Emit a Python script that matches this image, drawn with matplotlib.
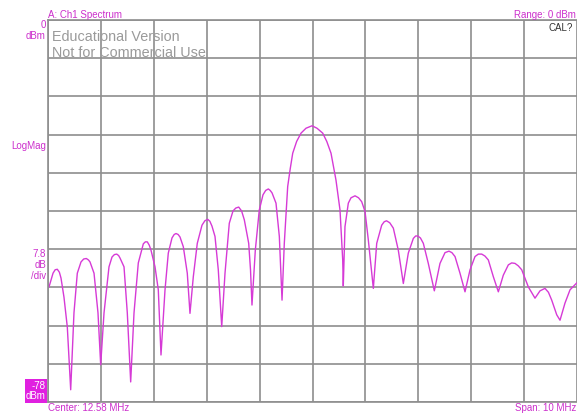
import matplotlib
matplotlib.use('Agg')
import numpy as np
import matplotlib.pyplot as plt

# Trace (frequency in MHz, level in dBm)
freq_mhz = [7.599, 7.675, 7.715, 7.756, 7.795, 7.826, 7.882, 7.945, 8.009, 8.071,
            8.134, 8.204, 8.255, 8.304, 8.345, 8.374, 8.450, 8.525, 8.576, 8.639,
            8.733, 8.790, 8.835, 8.879, 8.915, 8.941, 9.017, 9.079, 9.143, 9.206,
            9.287, 9.382, 9.420, 9.457, 9.495, 9.527, 9.603, 9.665, 9.716, 9.792,
            9.854, 9.924, 9.965, 10.000, 10.040, 10.075, 10.138, 10.213, 10.264, 10.327,
            10.402, 10.491, 10.545, 10.599, 10.640, 10.680, 10.737, 10.799, 10.864, 10.926,
            11.007, 11.077, 11.130, 11.185, 11.240, 11.291, 11.374, 11.408, 11.436, 11.499,
            11.574, 11.644, 11.695, 11.745, 11.780, 11.815, 11.890, 11.953, 12.004, 12.047,
            12.111, 12.160, 12.206, 12.280, 12.363, 12.457, 12.571, 12.665, 12.773, 12.850,
            12.930, 13.024, 13.100, 13.151, 13.162, 13.194, 13.257, 13.308, 13.384, 13.450,
            13.510, 13.573, 13.635, 13.730, 13.794, 13.888, 13.935, 13.979, 14.040, 14.108,
            14.202, 14.297, 14.391, 14.486, 14.530, 14.569, 14.620, 14.675, 14.769, 14.883,
            14.990, 15.085, 15.160, 15.215, 15.274, 15.368, 15.463, 15.558, 15.652, 15.715,
            15.779, 15.840, 15.904, 15.998, 16.093, 16.187, 16.282, 16.345, 16.408, 16.470,
            16.535, 16.660, 16.786, 16.881, 16.975, 17.040, 17.102, 17.197, 17.259, 17.353,
            17.448, 17.574]
level_dbm = [-54.5, -51.7, -51.0, -50.9, -51.5, -52.7, -56.6, -62.7, -75.5, -59.8,
             -51.7, -49.4, -48.8, -48.7, -49.0, -49.4, -51.7, -59.8, -70.4, -59.8,
             -50.4, -48.4, -47.9, -47.8, -48.1, -48.6, -50.4, -59.8, -73.9, -59.8,
             -49.6, -45.7, -45.3, -45.3, -46.0, -47.0, -50.4, -55.1, -68.4, -55.1,
             -47.6, -44.5, -43.8, -43.6, -43.8, -44.3, -46.3, -51.7, -59.9, -52.4,
             -45.6, -41.9, -41.0, -40.7, -41.1, -42.1, -44.2, -51.0, -62.6, -51.7,
             -41.5, -39.0, -38.4, -38.2, -39.0, -40.8, -45.6, -51.0, -58.2, -47.0,
             -38.8, -35.7, -34.8, -34.5, -34.8, -35.3, -37.4, -44.2, -57.2, -45.6,
             -34.0, -30.3, -27.2, -24.8, -23.1, -22.1, -21.6, -22.1, -23.1, -24.8,
             -27.2, -32.7, -38.8, -49.0, -54.3, -42.2, -37.4, -36.3, -35.9, -36.3,
             -37.1, -39.1, -44.9, -54.8, -45.6, -41.9, -41.2, -41.0, -41.4, -42.5,
             -47.0, -53.8, -47.6, -44.6, -44.1, -44.1, -44.5, -45.6, -49.7, -55.3,
             -49.7, -47.5, -47.2, -47.5, -48.3, -51.7, -55.5, -51.0, -48.3, -47.8,
             -47.8, -48.2, -49.0, -52.4, -55.5, -52.1, -50.0, -49.6, -49.7, -50.2,
             -51.0, -54.5, -56.8, -55.3, -54.8, -55.6, -57.2, -60.2, -61.3, -57.8,
             -55.1, -53.7]

center_mhz = 12.58
span_mhz = 10.0
ref_dbm = 0.0
db_per_div = 7.8
n_div = 10

MAG = '#cc2fcc'
TRACE = '#d63ad6'
GRID = '#8e8e8e'

plt.rcParams['font.family'] = ['Liberation Sans', 'DejaVu Sans']

W, H = 577, 416
fig = plt.figure(figsize=(W / 100, H / 100), dpi=100)
fig.patch.set_facecolor('white')
ax = fig.add_axes([48 / W, (H - 402) / H, 529 / W, 382 / H])

f0 = center_mhz - span_mhz / 2
f1 = center_mhz + span_mhz / 2
bottom = ref_dbm - db_per_div * n_div
ax.set_xlim(f0, f1)
ax.set_ylim(bottom, ref_dbm)
ax.set_xticks(np.linspace(f0, f1, n_div + 1))
ax.set_yticks(np.linspace(bottom, ref_dbm, n_div + 1))
ax.tick_params(length=0, labelbottom=False, labelleft=False)
ax.grid(True, color=GRID, linewidth=1.2)
for s in ax.spines.values():
    s.set_color(GRID)
    s.set_linewidth(1.2)
ax.spines['right'].set_visible(False)

ax.plot(freq_mhz, level_dbm, color=TRACE, linewidth=1.0, clip_on=True)

def px(x, y):
    return x / W, 1 - y / H

# watermark
fig.text(*px(52, 37), 'Educational Version', color='#9a9a9a', fontsize=10.4,
         ha='left', va='center')
fig.text(*px(52, 53), 'Not for Commercial Use', color='#9a9a9a', fontsize=10.4,
         ha='left', va='center')

# annotations around the screen
fig.text(*px(48, 15), 'A: Ch1 Spectrum', color=MAG, fontsize=7, ha='left', va='center')
fig.text(*px(576, 15), 'Range: 0 dBm', color=MAG, fontsize=7, ha='right', va='center')
fig.text(*px(573, 28), 'CAL?', color='#333333', fontsize=7, ha='right', va='center')
fig.text(*px(46, 25), '0', color=MAG, fontsize=7, ha='right', va='center')
fig.text(*px(46, 36), 'dBm', color=MAG, fontsize=7, ha='right', va='center')
fig.text(*px(46, 146), 'LogMag', color=MAG, fontsize=7, ha='right', va='center')
fig.text(*px(46, 254), '7.8', color=MAG, fontsize=7, ha='right', va='center')
fig.text(*px(46, 265), 'dB', color=MAG, fontsize=7, ha='right', va='center')
fig.text(*px(46, 276), '/div', color=MAG, fontsize=7, ha='right', va='center')
fig.text(*px(46, 391), '-78\ndBm', color='white', fontsize=7, ha='right', va='center',
         multialignment='right', linespacing=1.05,
         bbox=dict(boxstyle='square,pad=0.15', fc='#e020e0', ec='none'))
fig.text(*px(48, 408), 'Center: 12.58 MHz', color=MAG, fontsize=7, ha='left', va='center')
fig.text(*px(576, 408), 'Span: 10 MHz', color=MAG, fontsize=7, ha='right', va='center')

fig.savefig('out.png', dpi=100, facecolor='white')
